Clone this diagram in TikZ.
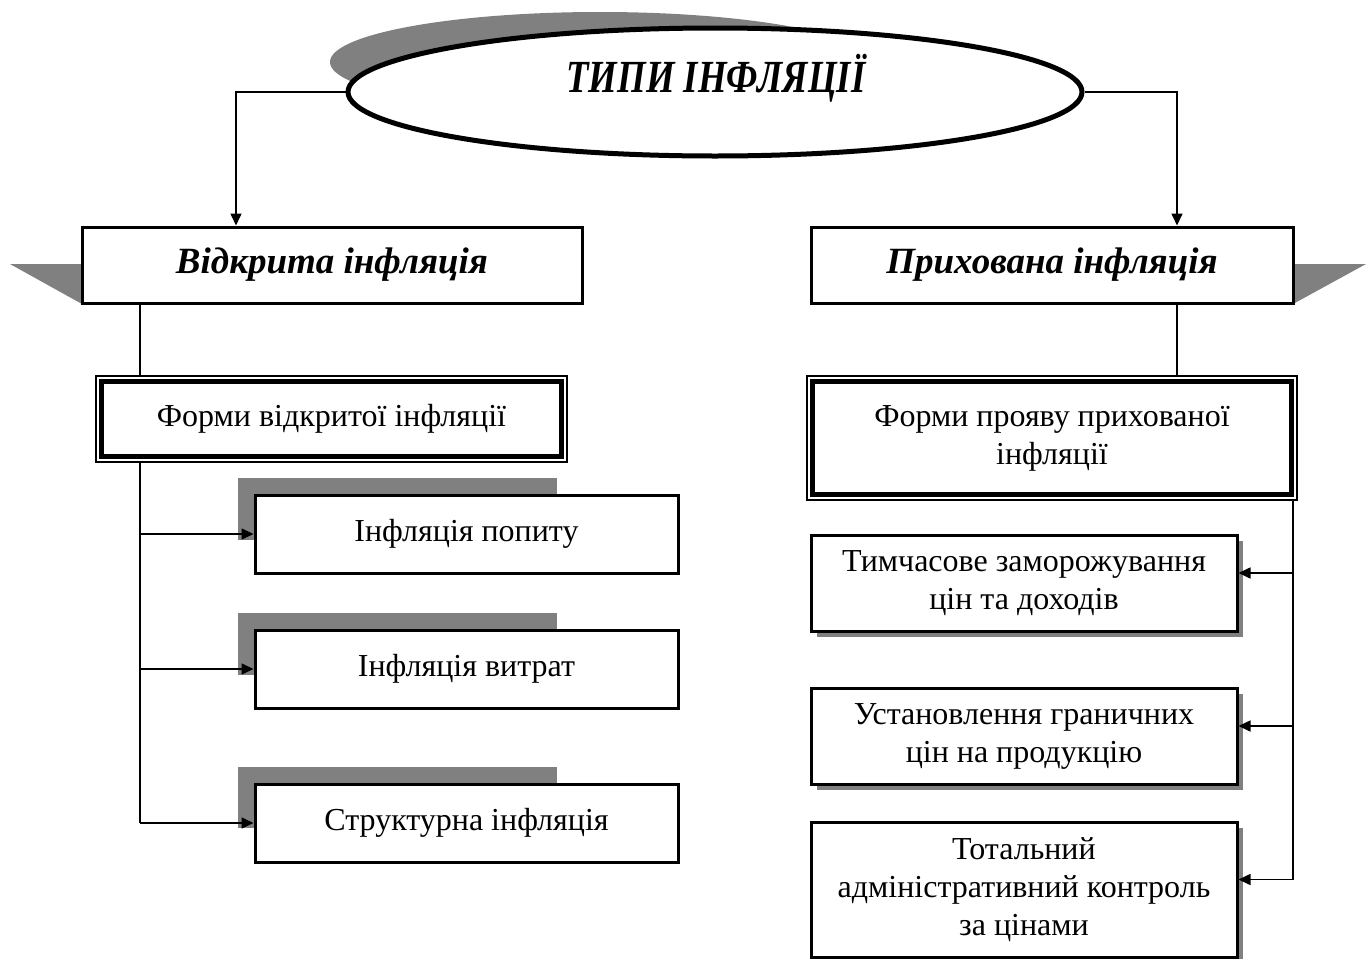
\documentclass[tikz,border=0pt]{standalone}
\usepackage{fontspec}
\usepackage{graphicx}
\setmainfont{Liberation Serif}
\usetikzlibrary{arrows.meta,shapes.geometric,shadows}
\definecolor{shd}{RGB}{128,128,128}
\begin{document}
\begin{tikzpicture}[x=0.5pt,y=-0.5pt,
  conn/.style={line width=0.8pt},
  arr/.style={conn,-{Triangle[length=6pt,width=5.5pt]}},
  mainbox/.style={draw,line width=1.5pt,fill=white,inner sep=0pt,font=\fontsize{18.5}{21}\selectfont\bfseries\itshape},
  subbox/.style={draw,line width=1.5pt,fill=white,inner sep=0pt,align=center,font=\fontsize{16}{19}\selectfont},
  outerframe/.style={draw,line width=0.7pt,fill=white,inner sep=0pt},
  thickframe/.style={draw,line width=2.5pt,inner sep=0pt,align=center,font=\fontsize{16}{19}\selectfont},
  shbox/.style={subbox,drop shadow={shadow xshift=3pt,shadow yshift=-3pt,fill=shd,opacity=1}}
]
\useasboundingbox (0,0) rectangle (1372,959);

% title ellipse with its shadow
\fill[shd] (600,62) ellipse[x radius=135pt,y radius=25pt];
\node[ellipse,draw,line width=2.5pt,fill=white,minimum width=367pt,minimum height=64pt,inner sep=0pt] (ell) at (715,92) {};
\node (title) at (716,78) {\scalebox{0.8}[1]{\fontsize{23}{26}\selectfont\bfseries\itshape ТИПИ ІНФЛЯЦІЇ}};

% main boxes with triangular shadows
\fill[shd] (10,264) -- (82,264) -- (82,304) -- cycle;
\fill[shd] (1293,264) -- (1366,264) -- (1293,304) -- cycle;
\node[mainbox,minimum width=250pt,minimum height=38pt] (open) at (332,265) {Відкрита інфляція};
\node[mainbox,minimum width=241pt,minimum height=38pt] (hid) at (1052,265) {Прихована інфляція};

\draw[arr] (ell.west) -| ([xshift=-48pt]open.north);
\draw[arr] (ell.east) -| ([xshift=62.5pt]hid.north);

% left trunk
\coordinate (lt) at (140,823);
\draw[conn] (open.south -| lt) -- (lt);

\node[outerframe,minimum width=235.5pt,minimum height=43pt] (fLo) at (331.5,419) {};
\node[thickframe,minimum width=230pt,minimum height=37.5pt] (fL) at (331.5,419) {Форми відкритої інфляції};

% left sub boxes with gray back plates
\fill[shd] (238,478) rectangle (557,540);
\fill[shd] (238,613) rectangle (557,675);
\fill[shd] (238,767) rectangle (557,828);
\node[subbox,minimum width=211.5pt,minimum height=39pt] (d1) at (466.5,534) {\raisebox{1.5pt}{Інфляція попиту}};
\node[subbox,minimum width=211.5pt,minimum height=39pt] (d2) at (466.5,669) {\raisebox{1.5pt}{Інфляція витрат}};
\node[subbox,minimum width=211.5pt,minimum height=39pt] (d3) at (466.5,823) {\raisebox{1.5pt}{Структурна інфляція}};
\draw[arr] (lt |- d1.west) -- (d1.west);
\draw[arr] (lt |- d2.west) -- (d2.west);
\draw[arr] (lt |- d3.west) -- (d3.west);

% right side
\coordinate (rx) at (1177,0);
\node[outerframe,minimum width=245pt,minimum height=62pt] (fRo) at (1052,438) {};
\node[thickframe,minimum width=239.5pt,minimum height=56.5pt] (fR) at (1052,438) {Форми прояву прихованої\\інфляції};
\draw[conn] (hid.south -| rx) -- (fRo.north -| rx);

\coordinate (rt) at (1293,880);
\draw[conn] (fRo.south -| rt) -- (rt);

\node[shbox,minimum width=213pt,minimum height=48pt] (h1) at (1024,583) {Тимчасове заморожування\\цін та доходів};
\node[shbox,minimum width=213pt,minimum height=48pt] (h2) at (1024,736) {Установлення граничних\\цін на продукцію};
\node[shbox,minimum width=213pt,minimum height=67.5pt] (h3) at (1024,889.5) {Тотальний\\адміністративний контроль\\за цінами};
\coordinate (a1) at ([yshift=5pt]h1.east);
\coordinate (a2) at ([yshift=5pt]h2.east);
\coordinate (a3) at ([yshift=5pt]h3.east);
\draw[arr] (a1 -| rt) -- (a1);
\draw[arr] (a2 -| rt) -- (a2);
\draw[arr] (a3 -| rt) -- (a3);
\end{tikzpicture}
\end{document}
